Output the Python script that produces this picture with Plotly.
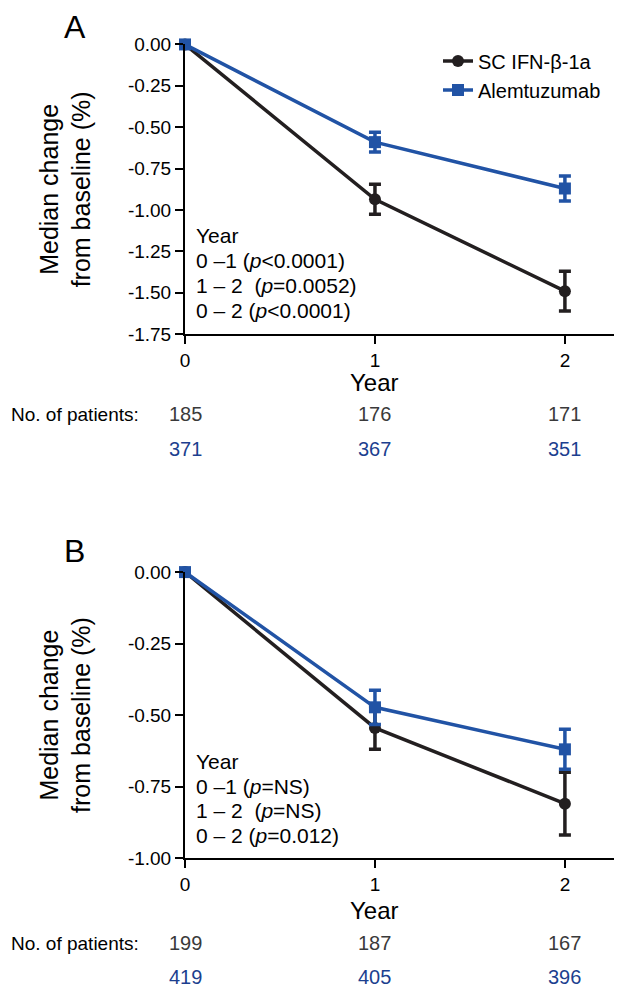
import plotly.graph_objects as go
from plotly.subplots import make_subplots

# data
years = [0, 1, 2]

# panel A
a_ifn = [0.0, -0.935, -1.49]
a_ifn_err = [0.0, 0.09, 0.12]
a_alem = [0.0, -0.59, -0.87]
a_alem_err = [0.0, 0.06, 0.075]
a_n_ifn = [185, 176, 171]
a_n_alem = [371, 367, 351]
a_stats = ["Year", "0 \u20131 (<i>p</i><0.0001)", "1 \u2013 2  (<i>p</i>=0.0052)", "0 \u2013 2 (<i>p</i><0.0001)"]
a_ticks = [0, -0.25, -0.5, -0.75, -1.0, -1.25, -1.5, -1.75]
a_ticktext = ["0.00", "-0.25", "-0.50", "-0.75", "-1.00", "-1.25", "-1.50", "-1.75"]

# panel B
b_ifn = [0.0, -0.545, -0.81]
b_ifn_err = [0.0, 0.075, 0.11]
b_alem = [0.0, -0.473, -0.62]
b_alem_err = [0.0, 0.06, 0.07]
b_n_ifn = [199, 187, 167]
b_n_alem = [419, 405, 396]
b_stats = ["Year", "0 \u20131 (<i>p</i>=NS)", "1 \u2013 2  (<i>p</i>=NS)", "0 \u2013 2 (<i>p</i>=0.012)"]
b_ticks = [0, -0.25, -0.5, -0.75, -1.0]
b_ticktext = ["0.00", "-0.25", "-0.50", "-0.75", "-1.00"]

names = ["SC IFN-\u03b2-1a", "Alemtuzumab"]
BLACK = "#231f20"
BLUE = "#2153a5"
NAVY = "#1c3f8f"
GREY = "#3a3a3a"
FONT = "Liberation Sans, Arial, sans-serif"

W, H = 622, 999
OFF = 8  # page body margin
ML, MR = 185 - OFF, 622 - (620 - OFF)
PW = W - ML - MR


def py(pix):
    # screen pixel row -> paper fraction
    return 1 - (pix - OFF) / H


def px(pix):
    # screen pixel column -> paper fraction (paper is the plot area horizontally)
    return (pix - OFF - ML) / PW


fig = make_subplots(rows=2, cols=1)

panels = [
    (1, a_ifn, a_ifn_err, a_alem, a_alem_err, True),
    (2, b_ifn, b_ifn_err, b_alem, b_alem_err, False),
]
for row, ifn, ifn_err, alem, alem_err, show in panels:
    fig.add_trace(go.Scatter(
        x=years, y=ifn, name=names[0], mode="lines+markers", showlegend=show,
        line=dict(color=BLACK, width=3.5), marker=dict(symbol="circle", size=12, color=BLACK),
        error_y=dict(type="data", array=ifn_err, color=BLACK, thickness=3.5, width=6),
        cliponaxis=False,
    ), row=row, col=1)
    fig.add_trace(go.Scatter(
        x=years, y=alem, name=names[1], mode="lines+markers", showlegend=show,
        line=dict(color=BLUE, width=3.5), marker=dict(symbol="square", size=12, color=BLUE),
        error_y=dict(type="data", array=alem_err, color=BLUE, thickness=3.5, width=6),
        cliponaxis=False,
    ), row=row, col=1)

axis_style = dict(showline=True, linecolor="black", linewidth=2, ticks="outside",
                  ticklen=8, tickwidth=2, tickcolor="black", showgrid=False, zeroline=False,
                  tickfont=dict(size=19, color="black", family=FONT))

fig.update_xaxes(range=[0, 2.29], tickvals=years, ticktext=[str(y) for y in years], **axis_style)
fig.update_yaxes(**axis_style)
fig.update_yaxes(range=[-1.75, 0], tickvals=a_ticks, ticktext=a_ticktext,
                 domain=[py(331), py(35)], row=1, col=1)
fig.update_yaxes(range=[-1.0, 0], tickvals=b_ticks, ticktext=b_ticktext,
                 domain=[py(866), py(574)], row=2, col=1)

ann = []
blocks = [
    ("A", 17, a_stats, a_n_ifn, a_n_alem, "x", 230, 413, 448, 183, 380),
    ("B", 552, b_stats, b_n_ifn, b_n_alem, "x2", 767, 953, 988, 720, 920),
]
for label, lab_y, stats, n_ifn, n_alem, xr, stat_y, n1_y, n2_y, ymid, year_y in blocks:
    ann.append(dict(text=label, x=px(75), y=py(lab_y), xref="paper", yref="paper",
                    showarrow=False, font=dict(size=32), xanchor="center", yanchor="middle"))
    ann.append(dict(text="Median change<br>from baseline (%)", textangle=-90,
                    x=px(65), y=py(ymid), xref="paper", yref="paper", showarrow=False,
                    font=dict(size=25), xanchor="center", yanchor="middle"))
    ann.append(dict(text="Year", x=1, y=py(year_y), xref=xr, yref="paper", showarrow=False,
                    font=dict(size=24), xanchor="center", yanchor="middle"))
    for i, s in enumerate(stats):
        ann.append(dict(text=s, x=px(194), y=py(stat_y + 25.5 * i), xref="paper", yref="paper",
                        showarrow=False, font=dict(size=21), xanchor="left", yanchor="middle"))
    ann.append(dict(text="No. of patients:", x=px(141), y=py(n1_y), xref="paper", yref="paper",
                    showarrow=False, font=dict(size=19), xanchor="right", yanchor="middle"))
    for yr, a, b in zip(years, n_ifn, n_alem):
        ann.append(dict(text=str(a), x=yr, y=py(n1_y), xref=xr, yref="paper", showarrow=False,
                        font=dict(size=20, color=GREY), xanchor="center", yanchor="middle"))
        ann.append(dict(text=str(b), x=yr, y=py(n2_y), xref=xr, yref="paper", showarrow=False,
                        font=dict(size=20, color=NAVY), xanchor="center", yanchor="middle"))

fig.update_layout(
    width=W, height=H,
    margin=dict(l=ML, r=MR, t=0, b=0),
    paper_bgcolor="white", plot_bgcolor="white",
    font=dict(family=FONT, color="black"),
    annotations=ann,
    legend=dict(x=px(438), y=py(32), xanchor="left", yanchor="top",
                font=dict(size=20), itemwidth=30, bgcolor="rgba(0,0,0,0)", tracegroupgap=0),
)

fig.write_html("out.html")
